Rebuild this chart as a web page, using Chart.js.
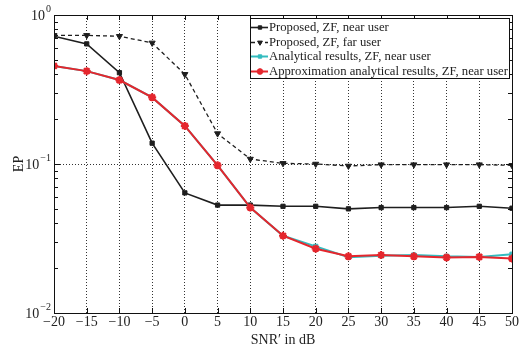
<!DOCTYPE html>
<html>
<head>
<meta charset="utf-8">
<script src="https://cdn.jsdelivr.net/npm/chart.js@4"></script>
<style>
  body { margin: 0; background: #fff; }
  #wrap { width: 523px; height: 349px; }
</style>
</head>
<body>
<div id="wrap"><canvas id="epChart" width="523" height="349"></canvas></div>
<script>
// SNR' values (dB)
const snr = [-20, -15, -10, -5, 0, 5, 10, 15, 20, 25, 30, 35, 40, 45, 50];

// error probability per series
const proposedNear = [0.72, 0.64, 0.41, 0.138, 0.064, 0.053, 0.053, 0.052, 0.052, 0.050, 0.051, 0.051, 0.051, 0.052, 0.0505];
const proposedFar = [0.73, 0.73, 0.72, 0.65, 0.40, 0.16, 0.108, 0.101, 0.100, 0.097, 0.099, 0.099, 0.099, 0.099, 0.098];
const analyticalNear = [0.455, 0.42, 0.366, 0.28, 0.18, 0.098, 0.051, 0.033, 0.028, 0.0237, 0.0242, 0.0245, 0.024, 0.0238, 0.0248];
const approxNear = [0.455, 0.42, 0.366, 0.28, 0.18, 0.098, 0.051, 0.033, 0.027, 0.024, 0.0245, 0.024, 0.0236, 0.0238, 0.0232];

const seriesNames = [
    'Proposed, ZF, near user',
    'Proposed, ZF, far user',
    'Analytical results, ZF, near user',
    'Approximation analytical results, ZF, near user'
];

const yDecades = [0.01, 0.1, 1];
const serif = '"Liberation Serif", "DejaVu Serif", serif';
const clear = 'rgba(0,0,0,0)';

function points(values) {
    return snr.map((x, i) => ({ x: x, y: values[i] }));
}

// box, inner ticks, y labels and legend
const frame = {
    id: 'frame',
    afterDraw(chart) {
        const ctx = chart.ctx;
        const a = chart.chartArea;
        const xs = chart.scales.x;
        const ys = chart.scales.y;
        ctx.save();
        ctx.strokeStyle = '#111';
        ctx.lineWidth = 1;

        // inner ticks
        ctx.beginPath();
        ys.ticks.forEach(t => {
            const y = Math.round(ys.getPixelForValue(t.value)) + 0.5;
            const major = yDecades.some(d => Math.abs(d - t.value) < 1e-9);
            const len = major ? 6 : 4;
            ctx.moveTo(a.left, y); ctx.lineTo(a.left + len, y);
            ctx.moveTo(a.right, y); ctx.lineTo(a.right - len, y);
        });
        xs.ticks.forEach(t => {
            const x = Math.round(xs.getPixelForValue(t.value)) + 0.5;
            ctx.moveTo(x, a.bottom); ctx.lineTo(x, a.bottom - 5);
            ctx.moveTo(x, a.top); ctx.lineTo(x, a.top + 5);
        });
        ctx.stroke();

        // box
        ctx.strokeRect(Math.round(a.left) + 0.5, Math.round(a.top) + 0.5,
            Math.round(a.right - a.left), Math.round(a.bottom - a.top));

        // y labels 10^n
        ctx.fillStyle = '#222';
        ctx.textBaseline = 'middle';
        yDecades.forEach(d => {
            const y = ys.getPixelForValue(d);
            const exp = String(Math.round(Math.log10(d))).replace('-', '−');
            ctx.font = '10px ' + serif;
            const ew = ctx.measureText(exp).width;
            ctx.textAlign = 'right';
            ctx.fillText(exp, a.left - 3, y - 6);
            ctx.font = '14px ' + serif;
            ctx.fillText('10', a.left - 4 - ew, y + 1);
        });

        // legend
        const lx = 250, ly = 18, lw = 259, lh = 60;
        ctx.fillStyle = '#fff';
        ctx.fillRect(lx, ly, lw, lh);
        ctx.strokeRect(lx + 0.5, ly + 0.5, lw, lh);
        const rowY = [27, 42, 56, 71];
        chart.data.datasets.forEach((ds, i) => {
            const y = rowY[i] + 0.5;
            ctx.save();
            ctx.strokeStyle = ds.borderColor;
            ctx.lineWidth = ds.borderWidth;
            ctx.setLineDash(ds.borderDash || []);
            ctx.beginPath();
            ctx.moveTo(lx + 1, y); ctx.lineTo(lx + 18, y);
            ctx.stroke();
            ctx.setLineDash([]);
            ctx.fillStyle = ds.backgroundColor;
            ctx.strokeStyle = ds.borderColor;
            ctx.lineWidth = ds.pointBorderWidth;
            Chart.helpers.drawPoint(ctx, {
                pointStyle: ds.pointStyle,
                rotation: ds.pointRotation || 0,
                radius: ds.pointRadius * 0.8,
                borderWidth: ds.pointBorderWidth
            }, lx + 10, y);
            ctx.restore();
            ctx.fillStyle = '#222';
            ctx.font = '12.7px ' + serif;
            ctx.textAlign = 'left';
            ctx.fillText(seriesNames[i], lx + 19, y);
        });
        ctx.restore();
    }
};

new Chart(document.getElementById('epChart'), {
    type: 'line',
    data: {
        datasets: [{
            data: points(proposedNear),
            borderColor: '#1e1e1e',
            backgroundColor: '#1e1e1e',
            borderWidth: 1.6,
            pointStyle: 'rect',
            pointRadius: 3,
            pointBorderWidth: 1,
            order: 2
        }, {
            data: points(proposedFar),
            borderColor: '#1e1e1e',
            backgroundColor: '#1e1e1e',
            borderWidth: 1.3,
            borderDash: [4, 3],
            pointStyle: 'triangle',
            pointRotation: 180,
            pointRadius: 3.5,
            pointBorderWidth: 1,
            order: 3
        }, {
            data: points(analyticalNear),
            borderColor: '#33bcbf',
            backgroundColor: '#33bcbf',
            borderWidth: 2,
            pointStyle: 'rect',
            pointRadius: 3,
            pointBorderWidth: 1,
            order: 1
        }, {
            data: points(approxNear),
            borderColor: '#e5262d',
            backgroundColor: '#e5262d',
            borderWidth: 2,
            pointStyle: 'star',
            pointRadius: 4,
            pointBorderWidth: 2.2,
            order: 0
        }]
    },
    options: {
        responsive: false,
        animation: false,
        events: [],
        layout: { padding: { top: 15, right: 11, left: 0, bottom: 0 } },
        plugins: { legend: { display: false }, tooltip: { enabled: false } },
        elements: { line: { tension: 0 } },
        scales: {
            x: {
                type: 'linear',
                min: -20,
                max: 50,
                afterFit: s => { s.height = 36; },
                afterBuildTicks: s => { s.ticks = snr.map(v => ({ value: v })); },
                ticks: {
                    stepSize: 5,
                    padding: 1,
                    color: '#222',
                    font: { family: serif, size: 14 },
                    maxRotation: 0,
                    autoSkip: false,
                    callback: v => v < 0 ? '−' + (-v) : String(v)
                },
                grid: {
                    drawTicks: false,
                    lineWidth: 1,
                    color: c => (c.tick && (c.tick.value === -20 || c.tick.value === 50)) ? clear : '#333'
                },
                border: { display: false, dash: [1, 2] },
                title: {
                    display: true,
                    text: 'SNR′ in dB',
                    color: '#222',
                    font: { family: serif, size: 14 },
                    padding: { top: 0, bottom: 0 }
                }
            },
            y: {
                type: 'logarithmic',
                min: 0.01,
                max: 1,
                afterFit: s => { s.width = 54; },
                afterBuildTicks: s => {
                    const t = [];
                    [0.01, 0.1].forEach(d => {
                        for (let k = 1; k <= 9; k++) t.push({ value: +(k * d).toPrecision(3) });
                    });
                    t.push({ value: 1 });
                    s.ticks = t;
                },
                ticks: { display: false },
                grid: {
                    drawTicks: false,
                    lineWidth: 1,
                    color: c => (c.tick && Math.abs(c.tick.value - 0.1) < 1e-9) ? '#333' : clear
                },
                border: { display: false, dash: [1, 2] },
                title: {
                    display: true,
                    text: 'EP',
                    color: '#222',
                    font: { family: serif, size: 14 },
                    padding: { top: 11, bottom: 0 }
                }
            }
        }
    },
    plugins: [frame]
});
</script>
</body>
</html>
